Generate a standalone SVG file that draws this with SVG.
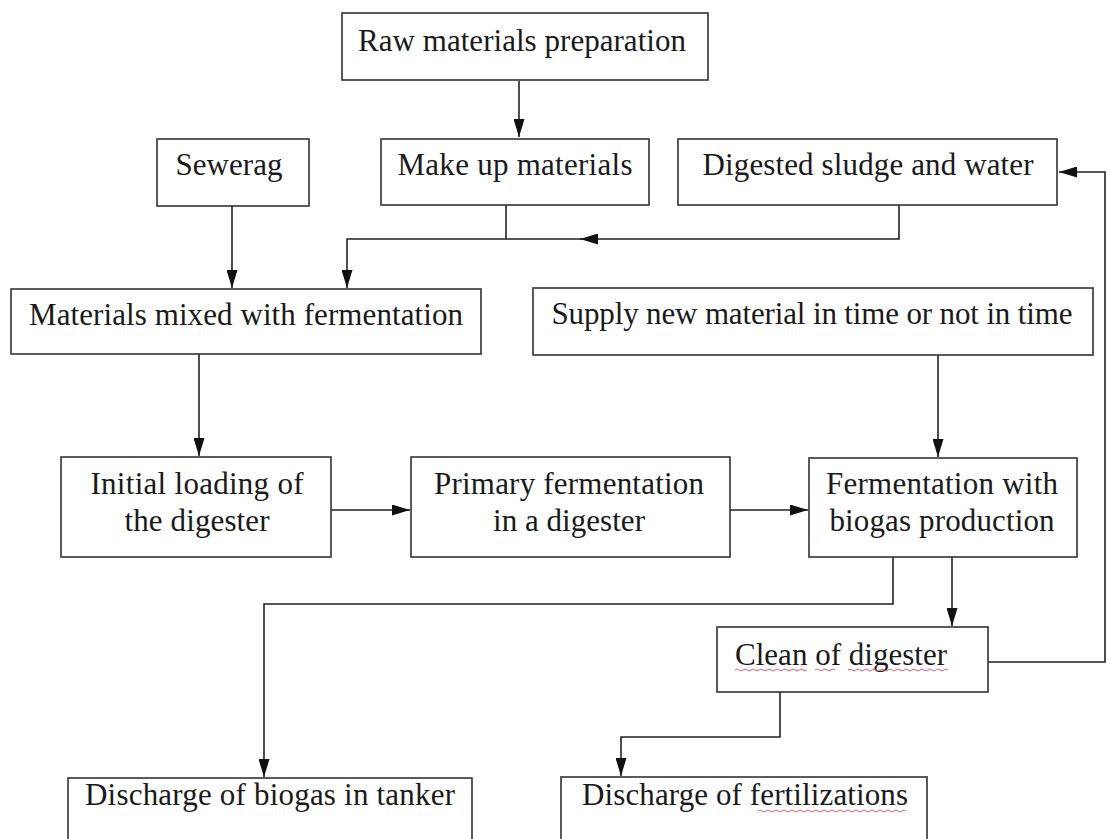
<svg xmlns="http://www.w3.org/2000/svg" width="1108" height="839" viewBox="0 0 1108 839">
<defs>
<marker id="ah" markerUnits="userSpaceOnUse" viewBox="0 0 18 11" refX="18" refY="5.5" markerWidth="18" markerHeight="11" orient="auto">
<path d="M0,0 L18,5.5 L0,11 z" fill="#111"/>
</marker>
<style>
.box{fill:#fff;stroke:#333;stroke-width:1.6}
.t{font-family:"Liberation Serif","Times New Roman",serif;font-size:31px;fill:#1a1a1a;text-anchor:middle}
.ln{fill:none;stroke:#222;stroke-width:1.6}
.sq{fill:none;stroke:#d0607a;stroke-width:1}
</style>
</defs>
<rect width="1108" height="839" fill="#fff"/>
<g id="connectors">
<path class="ln" d="M519,81 V137" marker-end="url(#ah)"/>
<path class="ln" d="M232,206 V288" marker-end="url(#ah)"/>
<path class="ln" d="M506,205 V239"/>
<path class="ln" d="M899,205 V239 H580" marker-end="url(#ah)"/>
<path class="ln" d="M582,239 H347 V288" marker-end="url(#ah)"/>
<path class="ln" d="M199,354 V456" marker-end="url(#ah)"/>
<path class="ln" d="M331,510 H410" marker-end="url(#ah)"/>
<path class="ln" d="M730,510 H808" marker-end="url(#ah)"/>
<path class="ln" d="M938,355 V457" marker-end="url(#ah)"/>
<path class="ln" d="M893,557 V604 H264 V777" marker-end="url(#ah)"/>
<path class="ln" d="M952,557 V626" marker-end="url(#ah)"/>
<path class="ln" d="M780,692 V737 H621 V776" marker-end="url(#ah)"/>
<path class="ln" d="M988,662 H1105 V172 H1059" marker-end="url(#ah)"/>
</g>
<g id="raw"><rect class="box" x="342" y="13" width="366" height="67"/><text class="t" x="522" y="51" textLength="328" lengthAdjust="spacing">Raw materials preparation</text></g>
<g id="sewerag"><rect class="box" x="157" y="139" width="152" height="67"/><text class="t" x="229" y="175" textLength="107" lengthAdjust="spacing">Sewerag</text></g>
<g id="makeup"><rect class="box" x="381" y="139" width="268" height="66"/><text class="t" x="515" y="175" textLength="235" lengthAdjust="spacing">Make up materials</text></g>
<g id="digested"><rect class="box" x="678" y="139" width="379" height="66"/><text class="t" x="868" y="175" textLength="331" lengthAdjust="spacing">Digested sludge and water</text></g>
<g id="mixed"><rect class="box" x="11" y="289" width="470" height="65"/><text class="t" x="246" y="325" textLength="434" lengthAdjust="spacing">Materials mixed with fermentation</text></g>
<g id="supply"><rect class="box" x="533" y="288" width="560" height="67"/><text class="t" x="812" y="324" textLength="521" lengthAdjust="spacing">Supply new material in time or not in time</text></g>
<g id="initial"><rect class="box" x="61" y="457" width="270" height="100"/><text class="t" x="197" y="494" textLength="213" lengthAdjust="spacing">Initial loading of</text><text class="t" x="197" y="531" textLength="145" lengthAdjust="spacing">the digester</text></g>
<g id="primary"><rect class="box" x="411" y="457" width="319" height="100"/><text class="t" x="569" y="494" textLength="270" lengthAdjust="spacing">Primary fermentation</text><text class="t" x="569" y="531" textLength="152" lengthAdjust="spacing">in a digester</text></g>
<g id="fermentation"><rect class="box" x="809" y="458" width="268" height="99"/><text class="t" x="942" y="494" textLength="232" lengthAdjust="spacing">Fermentation with</text><text class="t" x="942" y="531" textLength="225" lengthAdjust="spacing">biogas production</text></g>
<g id="clean"><rect class="box" x="717" y="627" width="271" height="65"/><text class="t" x="841" y="665" textLength="212" lengthAdjust="spacing">Clean of digester</text>
<path class="sq" d="M735,670 q2,-2 4,0 t4,0 t4,0 t4,0 t4,0 t4,0 t4,0 t4,0 t4,0 t4,0 t4,0 t4,0 t4,0 t4,0 t4,0 t4,0 t4,0 t4,0 M815,670 q2,-2 4,0 t4,0 t4,0 t4,0 t4,0 M848,670 q2,-2 4,0 t4,0 t4,0 t4,0 t4,0 t4,0 t4,0 t4,0 t4,0 t4,0 t4,0 t4,0 t4,0 t4,0 t4,0 t4,0 t4,0 t4,0 t4,0 t4,0 t4,0 t4,0 t4,0 t4,0 t4,0"/></g>
<g id="biogas"><rect class="box" x="68" y="778" width="404" height="75"/><text class="t" x="270" y="805" textLength="370" lengthAdjust="spacing">Discharge of biogas in tanker</text></g>
<g id="fert"><rect class="box" x="561" y="777" width="366" height="76"/><text class="t" x="745" y="805" textLength="326" lengthAdjust="spacing">Discharge of fertilizations</text>
<path class="sq" d="M758,811 q2,-2 4,0 t4,0 t4,0 t4,0 t4,0 t4,0 t4,0 t4,0 t4,0 t4,0 t4,0 t4,0 t4,0 t4,0 t4,0 t4,0 t4,0 t4,0 t4,0 t4,0 t4,0 t4,0 t4,0 t4,0 t4,0 t4,0 t4,0 t4,0 t4,0 t4,0 t4,0 t4,0 t4,0 t4,0 t4,0 t4,0 t4,0"/></g>
</svg>
